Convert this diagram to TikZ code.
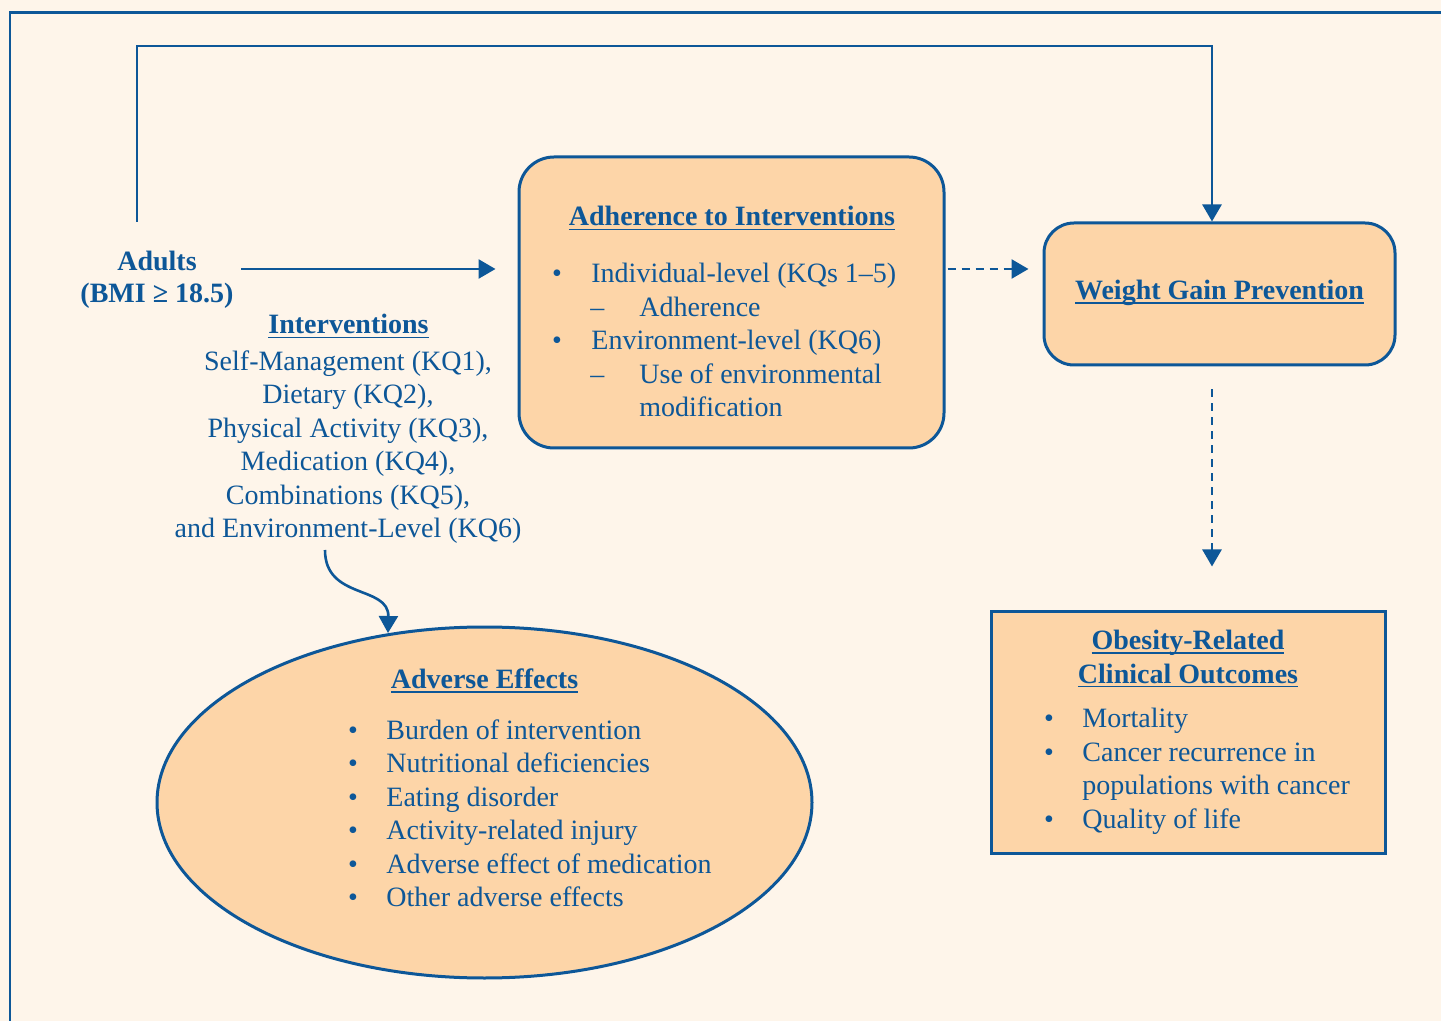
\documentclass[tikz,border=0pt]{standalone}
\usepackage{fontspec}
\setmainfont{Liberation Serif}
\usetikzlibrary{arrows.meta,shapes.geometric,calc}
\definecolor{myblue}{RGB}{13,87,152}
\definecolor{myfill}{RGB}{253,213,168}
\definecolor{mybg}{RGB}{254,245,234}
\newcommand{\myul}[1]{\setbox0=\hbox{#1}\rlap{\rule[-2.2pt]{\wd0}{0.8pt}}\box0}
\tikzset{
  conn/.style={draw=myblue, line width=1.3pt, -{Triangle[length=8.5pt,width=9.5pt]}},
  dconn/.style={conn, dash pattern=on 4pt off 3pt},
  boxs/.style={draw=myblue, fill=myfill, line width=1.5pt, inner sep=0pt},
  txt/.style={text=myblue, inner sep=0pt, anchor=base west, font=\fontsize{14}{16.8}\selectfont},
  ctxt/.style={txt, anchor=base},
  ttl/.style={ctxt, font=\fontsize{14}{16.8}\selectfont\bfseries},
  bul/.style={ctxt},
}
\begin{document}
\begin{tikzpicture}[x=0.5pt,y=-0.5pt]
\useasboundingbox (0,0) rectangle (1441,1021);
\fill[mybg] (0,0) rectangle (1441,1021);
\begin{scope}
\clip (0,0) rectangle (1441,1021);
\draw[myblue, line width=1.3pt] (10,12.5) rectangle (1480,1060);
\end{scope}

% boxes
\node[boxs, rounded corners=17.5pt, minimum width=212.5pt, minimum height=145.5pt] (adh) at (731.5,302.5) {};
\node[boxs, rounded corners=15pt, minimum width=175.5pt, minimum height=71pt] (wgp) at (1219.5,294) {};
\node[boxs, minimum width=197pt, minimum height=121pt] (obe) at (1188,732) {};
\node[boxs, ellipse, minimum width=327.5pt, minimum height=175.5pt] (ell) at (484.5,802.5) {};

% Adults
\node[ttl] (ad1) at (157,271) {Adults};
\node[ttl] (ad2) at (157,303) {(BMI ≥ 18.5)};

% Interventions
\node[ttl] (ivT) at (348.5,334) {\myul{Interventions}};
\node[ctxt] (iv1) at (348,370.5) {Self-Management (KQ1),};
\node[ctxt] (iv2) at (348,404) {Dietary (KQ2),};
\node[ctxt] (iv3) at (348,437.5) {Physical Activity (KQ3),};
\node[ctxt] (iv4) at (348,471) {Medication (KQ4),};
\node[ctxt] (iv5) at (348,504.5) {Combinations (KQ5),};
\node[ctxt] (iv6) at (348,538) {and Environment-Level (KQ6)};

% Adherence text
\node[ttl] (adhT) at (732,226) {\myul{Adherence to Interventions}};
\node[bul] (ab1) at (557,283) {\textbullet};
\node[txt] (at1) at (591,283) {Individual-level (KQs 1–5)};
\node[txt] (ad1d) at (590,316.5) {–};
\node[txt] (at2) at (639,316.5) {Adherence};
\node[bul] (ab2) at (557,350) {\textbullet};
\node[txt] (at3) at (591,350) {Environment-level (KQ6)};
\node[txt] (ad2d) at (590,383.5) {–};
\node[txt] (at4) at (639,383.5) {Use of environmental};
\node[txt] (at5) at (639,417) {modification};

% Weight gain
\node[ttl] (wgpT) at (1219.5,299.5) {\myul{Weight Gain Prevention}};

% Obesity
\node[ttl] (obT1) at (1188,649.5) {\myul{Obesity-Related}};
\node[ttl] (obT2) at (1188,683) {\myul{Clinical Outcomes}};
\node[bul] (ob1) at (1049,727) {\textbullet};
\node[txt] (ot1) at (1082,727) {Mortality};
\node[bul] (ob2) at (1049,761) {\textbullet};
\node[txt] (ot2) at (1082,761) {Cancer recurrence in};
\node[txt] (ot3) at (1082,794) {populations with cancer};
\node[bul] (ob3) at (1049,828) {\textbullet};
\node[txt] (ot4) at (1082,828) {Quality of life};

% Adverse effects
\node[ttl] (aeT) at (484.5,688.5) {\myul{Adverse Effects}};
\node[bul] (eb1) at (353,739) {\textbullet};
\node[txt] (et1) at (386,739) {Burden of intervention};
\node[bul] (eb2) at (353,772.5) {\textbullet};
\node[txt] (et2) at (386,772.5) {Nutritional deficiencies};
\node[bul] (eb3) at (353,806) {\textbullet};
\node[txt] (et3) at (386,806) {Eating disorder};
\node[bul] (eb4) at (353,839.5) {\textbullet};
\node[txt] (et4) at (386,839.5) {Activity-related injury};
\node[bul] (eb5) at (353,873) {\textbullet};
\node[txt] (et5) at (386,873) {Adverse effect of medication};
\node[bul] (eb6) at (353,906.5) {\textbullet};
\node[txt] (et6) at (386,906.5) {Other adverse effects};

% connectors
\coordinate (tl) at (137,222);
\coordinate (tr) at (1212,46);
\draw[conn] (tl) |- (tr) -- (tr |- wgp.north);
\coordinate (a1) at (241,269);
\draw[conn, shorten >=11pt] (a1) -- (a1 -| adh.west);
\draw[dconn, shorten <=1pt, shorten >=7pt] (a1 -| adh.east) -- (a1 -| wgp.west);
\draw[dconn, shorten <=11.5pt, shorten >=21.5pt] (tr |- wgp.south) -- (tr |- obe.north);
\coordinate (c1) at (325,550);
\coordinate (c2) at (388,633);
\draw[conn] (c1) .. controls (325,600) and (389,585) .. (c2);
\end{tikzpicture}
\end{document}
